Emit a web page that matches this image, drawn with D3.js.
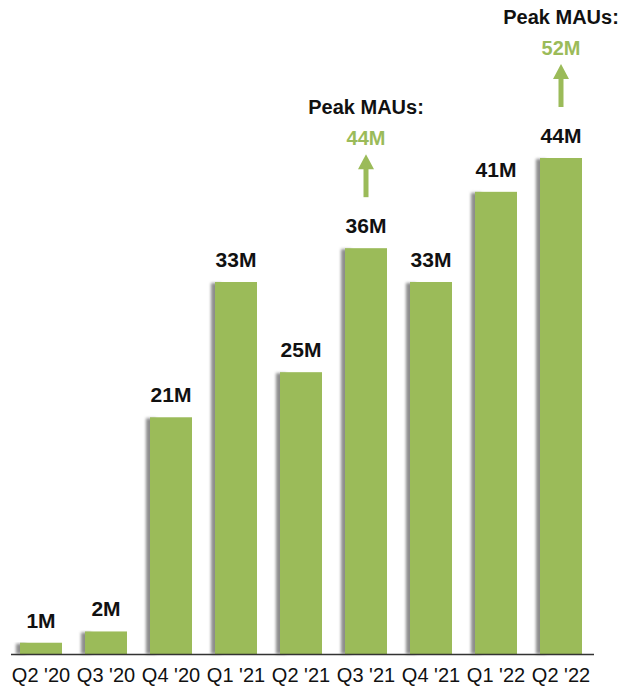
<!DOCTYPE html>
<html>
<head>
<meta charset="utf-8">
<script src="https://cdn.jsdelivr.net/npm/d3@7"></script>
<style>
  body { margin: 0; background: #fff; }
  text { font-family: "Liberation Sans", Arial, sans-serif; }
</style>
</head>
<body>
<svg id="chart" width="623" height="690"></svg>
<script>
// quarterly MAUs (millions)
const quarters = ["Q2 '20", "Q3 '20", "Q4 '20", "Q1 '21", "Q2 '21", "Q3 '21", "Q4 '21", "Q1 '22", "Q2 '22"];
const maus = [1, 2, 21, 33, 25, 36, 33, 41, 44];
// peak MAU callouts
const peakQuarters = ["Q3 '21", "Q2 '22"];
const peakValues = [44, 52];

const width = 623, height = 690;
const baseY = 654;
const green = "#9bbb59";

const svg = d3.select("#chart");

const defs = svg.append("defs");
defs.append("filter").attr("id", "shadow")
  .attr("x", "-50%").attr("y", "-10%").attr("width", "200%").attr("height", "120%")
  .append("feGaussianBlur").attr("stdDeviation", 1.5);

const x = d3.scaleBand()
  .domain(quarters)
  .range([8.5, 593.5])
  .paddingInner(0.354)
  .paddingOuter(0.177);

const y = d3.scaleLinear()
  .domain([0, 44])
  .range([baseY, 158]);

const data = quarters.map((q, i) => ({ q, v: maus[i] }));

// bar shadows (left side)
svg.append("g").selectAll("rect")
  .data(data)
  .join("rect")
  .attr("x", d => x(d.q) - 4)
  .attr("y", d => y(d.v) + 1)
  .attr("width", 10)
  .attr("height", d => baseY - y(d.v) - 1)
  .attr("fill", "#8c8c8c")
  .attr("filter", "url(#shadow)");

// bars
svg.append("g").selectAll("rect")
  .data(data)
  .join("rect")
  .attr("x", d => x(d.q))
  .attr("y", d => y(d.v))
  .attr("width", x.bandwidth())
  .attr("height", d => baseY - y(d.v))
  .attr("fill", green);

// value labels
svg.append("g").selectAll("text")
  .data(data)
  .join("text")
  .attr("x", d => x(d.q) + x.bandwidth() / 2)
  .attr("y", d => y(d.v) - 15)
  .attr("text-anchor", "middle")
  .attr("font-size", 21)
  .attr("font-weight", "bold")
  .attr("fill", "#111")
  .text(d => d.v + "M");

// x axis
const xAxis = svg.append("g")
  .attr("transform", `translate(0,${baseY})`)
  .call(d3.axisBottom(x).tickSize(0).tickPadding(14));
xAxis.select(".domain").attr("d", "M11,0.5H594").attr("stroke", "#333").attr("stroke-width", 1.5);
xAxis.selectAll("text")
  .attr("font-size", 20)
  .attr("fill", "#111")
  .attr("font-family", "'Liberation Sans', Arial, sans-serif");

// peak callouts
const peaks = peakQuarters.map((q, i) => ({ q, v: peakValues[i], base: maus[quarters.indexOf(q)] }));
const callout = svg.append("g").selectAll("g")
  .data(peaks)
  .join("g")
  .attr("transform", d => `translate(${x(d.q) + x.bandwidth() / 2},${y(d.base)})`);

callout.append("line")
  .attr("x1", 0).attr("x2", 0)
  .attr("y1", -51).attr("y2", -80)
  .attr("stroke", green)
  .attr("stroke-width", 5);
callout.append("path")
  .attr("d", "M0,-94L-8,-79L8,-79Z")
  .attr("fill", green);
callout.append("text")
  .attr("y", -103)
  .attr("text-anchor", "middle")
  .attr("font-size", 20)
  .attr("font-weight", "bold")
  .attr("fill", green)
  .text(d => d.v + "M");
callout.append("text")
  .attr("y", -134)
  .attr("text-anchor", "middle")
  .attr("font-size", 20)
  .attr("font-weight", "bold")
  .attr("fill", "#111")
  .text("Peak MAUs:");
</script>
</body>
</html>
